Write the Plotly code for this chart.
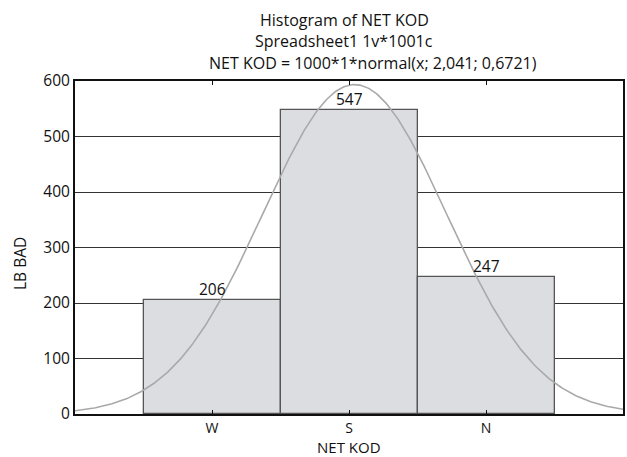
import numpy as np
import plotly.graph_objects as go

categories = ["W", "S", "N"]
positions = [1, 2, 3]
counts = [206, 547, 247]
fit_n = 1000
fit_mean = 2.041
fit_sd = 0.6721
y_ticks = [0, 100, 200, 300, 400, 500, 600]
title_lines = [
    "Histogram of NET KOD",
    "Spreadsheet1 1v*1001c",
    "NET KOD = 1000*1*normal(x; 2,041; 0,6721)",
]
x_title = "NET KOD"
y_title = "LB BAD"

FONT = "Open Sans"
FS = 15.5

W, H = 627, 457
L, R, T, B = 75, 4, 81, 43
plot_top, plot_bot = T, H - B
plot_left, plot_right = L, W - R


def px_to_paper_x(px):
    return (px - plot_left) / (plot_right - plot_left)


def px_to_paper_y(py):
    return (plot_bot - py) / (plot_bot - plot_top)


xc = np.linspace(0, 4, 401)
yc = fit_n * 1 * np.exp(-0.5 * ((xc - fit_mean) / fit_sd) ** 2) / (fit_sd * np.sqrt(2 * np.pi))

fig = go.Figure()
fig.add_trace(go.Bar(
    x=positions, y=counts, width=1,
    marker=dict(color="#dcdde0", line=dict(color="#555555", width=1.3)),
    showlegend=False,
))
fig.add_trace(go.Scatter(
    x=xc, y=yc, mode="lines",
    line=dict(color="#a9a9a9", width=1.6), showlegend=False,
))

for xp, c in zip(positions, counts):
    fig.add_annotation(
        text=str(c), x=xp, y=c, xref="x", yref="y",
        xanchor="center", yanchor="middle", yshift=11, showarrow=False,
        font=dict(family=FONT, size=FS, color="#111111"),
    )

title_pos = [(344, 20), (344, 41), (373, 63)]
for txt, (cx, cy) in zip(title_lines, title_pos):
    fig.add_annotation(
        text=txt, xref="paper", yref="paper",
        x=px_to_paper_x(cx), y=px_to_paper_y(cy),
        xanchor="center", yanchor="middle", showarrow=False,
        font=dict(family=FONT, size=16, color="#111111"),
    )

fig.add_annotation(
    text=x_title, xref="paper", yref="paper",
    x=px_to_paper_x(349), y=px_to_paper_y(447),
    xanchor="center", yanchor="middle", showarrow=False, borderpad=0,
    font=dict(family=FONT, size=15, color="#111111"),
)
fig.add_annotation(
    text=y_title, xref="paper", yref="paper", textangle=-90,
    x=px_to_paper_x(20), y=px_to_paper_y(264),
    xanchor="center", yanchor="middle", showarrow=False,
    font=dict(family=FONT, size=FS, color="#111111"),
)

fig.update_layout(
    width=W, height=H,
    margin=dict(l=L, r=R, t=T, b=B, autoexpand=False),
    paper_bgcolor="white", plot_bgcolor="white",
    font=dict(family=FONT, size=FS, color="#111111"),
    bargap=0,
)
fig.update_xaxes(
    range=[0, 4], tickvals=positions, ticktext=categories,
    showline=True, linecolor="#111111", linewidth=2, mirror="allticks",
    ticks="inside", ticklen=4, tickcolor="#111111", tickwidth=1,
    showgrid=False, zeroline=False, automargin=False,
    tickfont=dict(family=FONT, size=14),
)
fig.update_yaxes(
    range=[0, 600], tickvals=y_ticks,
    showline=True, linecolor="#111111", linewidth=2, mirror=True,
    ticks="", showgrid=True, gridcolor="#333333", gridwidth=1,
    zeroline=False, automargin=False,
    tickfont=dict(family=FONT, size=FS),
)

fig.write_html("out.html")
